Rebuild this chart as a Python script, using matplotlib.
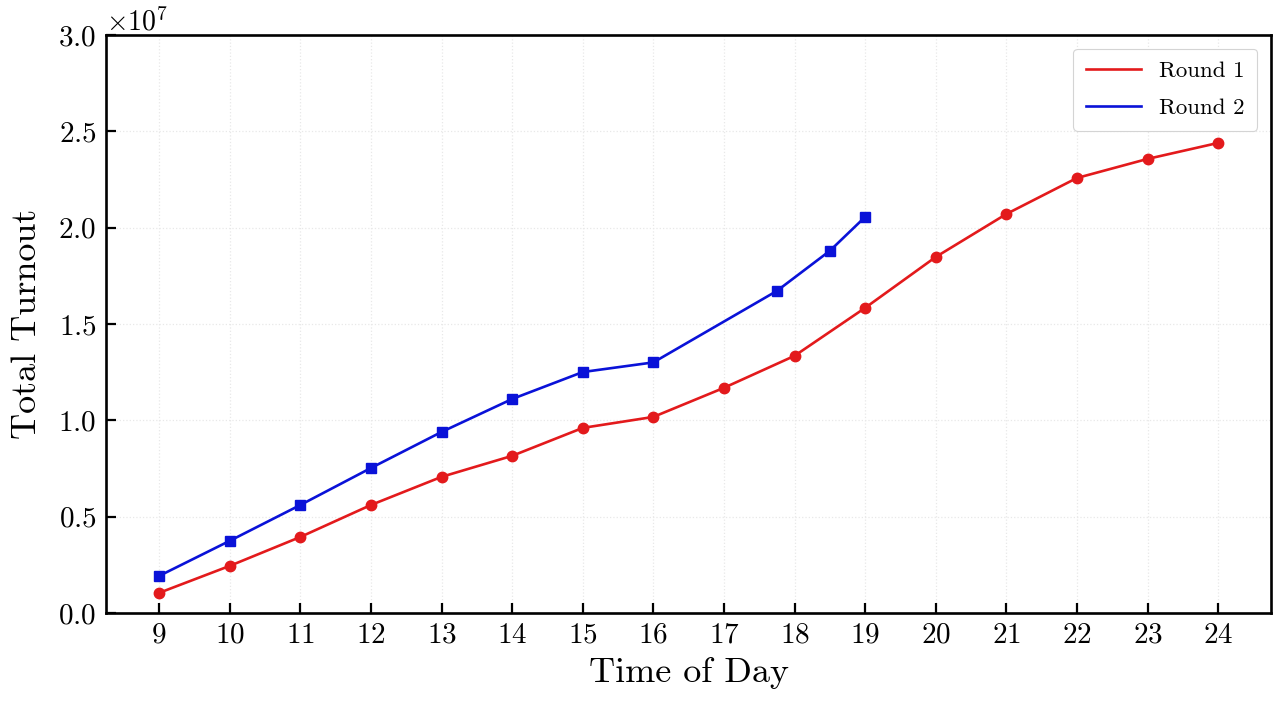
import matplotlib
matplotlib.use("Agg")
import matplotlib.pyplot as plt
from matplotlib.lines import Line2D

# Data
hours_r1 = [9, 10, 11, 12, 13, 14, 15, 16, 17, 18, 19, 20, 21, 22, 23, 24]
turnout_r1 = [1.04e6, 2.44e6, 3.94e6, 5.60e6, 7.06e6, 8.15e6, 9.60e6, 10.17e6,
              11.68e6, 13.34e6, 15.83e6, 18.47e6, 20.70e6, 22.57e6, 23.56e6, 24.39e6]
hours_r2 = [9, 10, 11, 12, 13, 14, 15, 16, 17.75, 18.5, 19]
turnout_r2 = [1.92e6, 3.74e6, 5.60e6, 7.52e6, 9.39e6, 11.10e6, 12.50e6, 13.00e6,
              16.71e6, 18.79e6, 20.55e6]
xticks = list(range(9, 25))
series_labels = ["Round 1", "Round 2"]

plt.rcParams.update({
    "font.family": "serif",
    "font.serif": ["cmr10", "DejaVu Serif"],
    "mathtext.fontset": "cm",
    "axes.formatter.use_mathtext": True,
    "axes.unicode_minus": False,
})

RED = "#e31a1c"
BLUE = "#0a12d8"

fig = plt.figure(figsize=(12.8, 7.11), dpi=100)
ax = fig.add_axes([0.083, 0.138, 0.910, 0.813])

ax.plot(hours_r1, turnout_r1, color=RED, lw=1.9, marker="o", ms=7.5, zorder=3)
ax.plot(hours_r2, turnout_r2, color=BLUE, lw=1.9, marker="s", ms=7, zorder=3)

ax.set_xticks(xticks)
ax.set_ylim(0, 3.0e7)
ax.set_yticks([0, 0.5e7, 1.0e7, 1.5e7, 2.0e7, 2.5e7, 3.0e7])
ax.ticklabel_format(axis="y", style="sci", scilimits=(0, 0), useMathText=True)
ax.yaxis.get_offset_text().set_fontsize(20)

ax.tick_params(direction="in", length=7, width=1.6, labelsize=21, pad=7)
for s in ax.spines.values():
    s.set_linewidth(1.9)

ax.grid(True, linestyle=":", color="#e8e8e8", linewidth=0.9)
ax.set_axisbelow(True)

ax.set_xlabel("Time of Day", fontsize=26, labelpad=6)
ax.set_ylabel("Total Turnout", fontsize=26, labelpad=11)

handles = [Line2D([], [], color=RED, lw=1.9), Line2D([], [], color=BLUE, lw=1.9)]
leg = ax.legend(handles, series_labels, loc="upper right", fontsize=16.5, frameon=True,
                fancybox=True, edgecolor="#d4d4d4", framealpha=1.0,
                handlelength=2.4, borderpad=0.55, labelspacing=0.75, borderaxespad=0.6)
leg.get_frame().set_linewidth(0.8)

fig.savefig("out.png", dpi=100)
